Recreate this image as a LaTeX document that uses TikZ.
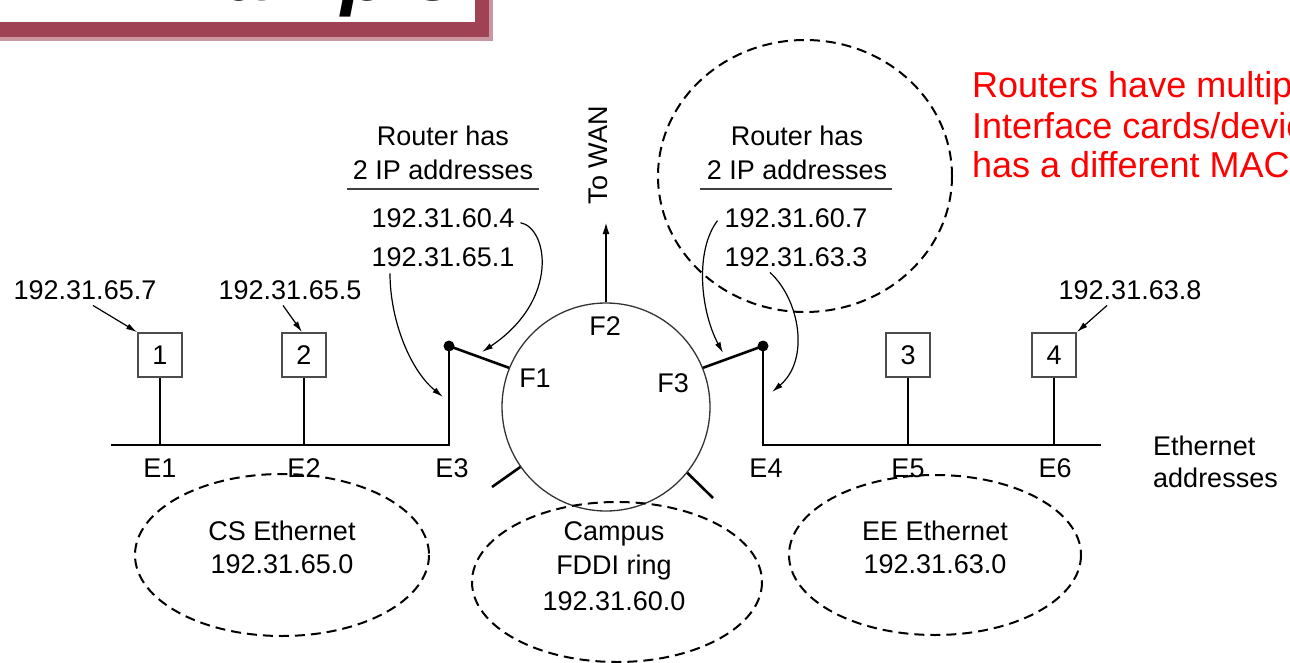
\documentclass[tikz,border=0pt]{standalone}
\usepackage{fontspec}
\setmainfont{Liberation Sans}
\usetikzlibrary{arrows.meta}
\definecolor{shadowred}{RGB}{158,66,84}
\definecolor{redtxt}{RGB}{255,0,0}
\begin{document}
\begin{tikzpicture}[x=1pt,y=-1pt,
  lbl/.style={inner sep=0pt, anchor=base, font=\fontsize{27}{32}\selectfont},
  host/.style={draw=black!70, line width=1.8pt, minimum size=44pt, inner sep=0pt, font=\fontsize{27}{32}\selectfont},
  wire/.style={line width=2.6pt},
  arr/.style={line width=1.2pt, -{Latex[length=11pt,width=6pt]}},
  zone/.style={line width=2pt, dash pattern=on 10pt off 6pt},
  rdot/.style={circle, fill=black, inner sep=0pt, minimum size=11pt},
  redline/.style={inner sep=0pt, anchor=base west, text=redtxt, font=\fontsize{36}{42}\selectfont}]
\useasboundingbox (0,0) rectangle (1290,663);
\clip (0,0) rectangle (1290,663);

% title box (cropped)
\fill[shadowred!55] (-20,-100) rectangle (493,41);
\fill[shadowred] (-20,-100) rectangle (489,37);
\fill[white] (-20,-100) rectangle (475,22);
\node[inner sep=0pt, anchor=base west, font=\fontsize{80}{90}\selectfont\bfseries\itshape] (title) at (128,1) {Example};

% red note (cropped at right edge)
\node[redline] (red1) at (972,98) {Routers have multiple};
\node[redline] (red2) at (972,139) {Interface cards/devices, each};
\node[redline] (red3) at (972,178) {has a different MAC address};

% FDDI ring
\node[circle, draw=black!80, line width=1.3pt, minimum size=208pt, inner sep=0pt] (ring) at (606,407) {};
\node[lbl] (f1) at (535,387) {F1};
\node[lbl] (f2) at (605,335) {F2};
\node[lbl] (f3) at (673,392) {F3};
\coordinate (s1) at (492,487);
\coordinate (s2) at (713,498);
\draw[wire] (ring.215) -- (s1);
\draw[wire] (ring.-39) -- (s2);

% to WAN
\coordinate (wan) at (606,222);
\draw[line width=2pt, -{Latex[length=12pt,width=7pt]}] (ring.north) -- (wan);
\node[inner sep=0pt, rotate=90, font=\fontsize{27}{32}\selectfont] (towan) at (598,155) {To WAN};

% routers
\node[rdot] (r1) at (449,346) {};
\node[rdot] (r2) at (763,346) {};
\draw[wire] (r1.center) -- (ring.158);
\draw[wire] (r2.center) -- (ring.22);

% Ethernet buses
\coordinate (busL) at (111,445);
\coordinate (e3) at (449,445);
\coordinate (e4) at (763,445);
\coordinate (busR) at (1101,445);
\draw[wire] (busL) -- (e3) -- (r1.center);
\draw[wire] (r2.center) -- (e4) -- (busR);

% hosts
\node[host] (h1) at (160,355) {1};
\node[host] (h2) at (304,355) {2};
\node[host] (h3) at (908,355) {3};
\node[host] (h4) at (1054,355) {4};
\draw[wire] (h1.south) -- (h1.south |- busL);
\draw[wire] (h2.south) -- (h2.south |- busL);
\draw[wire] (h3.south) -- (h3.south |- busR);
\draw[wire] (h4.south) -- (h4.south |- busR);

% host addresses
\node[lbl] (l657) at (85,299) {192.31.65.7};
\node[lbl] (l655) at (290,299) {192.31.65.5};
\node[lbl] (l638) at (1130,299) {192.31.63.8};
\draw[arr] ([shift={(8,6)}]l657.south) -- (h1.north west);
\draw[arr] ([shift={(-7,6)}]l655.south) -- ([xshift=-2pt]h2.north);
\draw[arr] ([shift={(-23,6)}]l638.south) -- (h4.north east);

% Ethernet addresses
\node[lbl] (le1) at (160,477) {E1};
\node[lbl] (le2) at (304,477) {E2};
\node[lbl] (le3) at (452,477) {E3};
\node[lbl] (le4) at (766,477) {E4};
\node[lbl] (le5) at (908,477) {E5};
\node[lbl] (le6) at (1055,477) {E6};
\node[lbl, anchor=base west] (eth1) at (1153,455) {Ethernet};
\node[lbl, anchor=base west] (eth2) at (1153,487) {addresses};

% left router text
\node[lbl] (rl1) at (443,146) {Router has};
\node[lbl] (rl2) at (443,180) {2 IP addresses};
\draw[line width=1.5pt, black!75] (347,189) -- (539,189);
\node[lbl] (ip604) at (443,228) {192.31.60.4};
\node[lbl] (ip651) at (443,266) {192.31.65.1};

% right router text
\node[lbl] (rr1) at (797,146) {Router has};
\node[lbl] (rr2) at (797,180) {2 IP addresses};
\draw[line width=1.5pt, black!75] (700,189) -- (892,189);
\node[lbl] (ip607) at (796,228) {192.31.60.7};
\node[lbl] (ip633) at (796,266) {192.31.63.3};

% curved pointers
\coordinate (t1) at (482,352);
\coordinate (t2) at (443,397);
\coordinate (t3) at (723,353);
\coordinate (t4) at (772,392);
\draw[arr] ([shift={(6,4)}]ip604.east) .. controls (548,228) and (560,300) .. (t1);
\draw[arr] ([shift={(-53,7)}]ip651.south) .. controls (390,320) and (410,370) .. (t2);
\draw[arr] ([shift={(-7,2)}]ip607.west) .. controls (695,250) and (700,310) .. (t3);
\draw[arr] ([shift={(-26,6)}]ip633.south) .. controls (800,300) and (810,360) .. (t4);

% dashed zones
\draw[zone] (805,176) ellipse [x radius=147, y radius=136];
\draw[zone] (282,555) ellipse [x radius=147, y radius=81];
\draw[zone] (617,582) ellipse [x radius=145, y radius=80];
\draw[zone] (935,555) ellipse [x radius=146, y radius=80];

\node[lbl] (cs1) at (282,540) {CS Ethernet};
\node[lbl] (cs2) at (282,573) {192.31.65.0};
\node[lbl] (fd1) at (614,540) {Campus};
\node[lbl] (fd2) at (614,574) {FDDI ring};
\node[lbl] (fd3) at (614,610) {192.31.60.0};
\node[lbl] (ee1) at (935,540) {EE Ethernet};
\node[lbl] (ee2) at (935,573) {192.31.63.0};
\end{tikzpicture}
\end{document}
